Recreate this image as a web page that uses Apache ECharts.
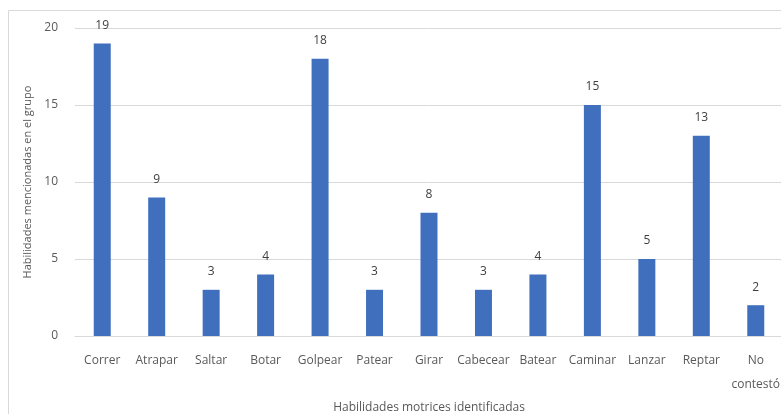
<!DOCTYPE html>
<html>
<head>
<meta charset="utf-8">
<script src="https://cdn.jsdelivr.net/npm/echarts@6/dist/echarts.min.js"></script>
<style>
  html, body { margin: 0; padding: 0; background: #fff; }
  #main { width: 781px; height: 414px; }
</style>
</head>
<body>
<div id="main"></div>
<script>
var categories = ['Correr', 'Atrapar', 'Saltar', 'Botar', 'Golpear', 'Patear', 'Girar',
                  'Cabecear', 'Batear', 'Caminar', 'Lanzar', 'Reptar', 'No\ncontestó'];
var values = [19, 9, 3, 4, 18, 3, 8, 3, 4, 15, 5, 13, 2];
var yTicks = [0, 5, 10, 15, 20];

var textColor = '#595959';
var fontName = 'Open Sans';

var myChart = echarts.init(document.getElementById('main'));
var option = {
    animation: false,
    textStyle: { fontFamily: fontName },
    graphic: [{
        type: 'rect',
        shape: { x: 8.5, y: 10.5, width: 900, height: 600 },
        style: { fill: 'none', stroke: '#d9d9d9', lineWidth: 1 },
        silent: true
    }],
    grid: {
        left: 75,
        top: 28,
        width: 708,
        height: 308,
        containLabel: false,
        outerBoundsMode: 'none'
    },
    xAxis: {
        type: 'category',
        data: categories,
        name: 'Habilidades motrices identificadas',
        nameLocation: 'middle',
        nameGap: 63,
        nameTextStyle: { color: textColor, fontSize: 12, fontFamily: fontName },
        axisLine: { lineStyle: { color: '#d9d9d9', width: 1 } },
        axisTick: { show: false },
        axisLabel: {
            color: textColor,
            fontSize: 12,
            fontFamily: fontName,
            margin: 13,
            lineHeight: 24,
            interval: 0
        }
    },
    yAxis: {
        type: 'value',
        min: yTicks[0],
        max: yTicks[yTicks.length - 1],
        interval: 5,
        name: 'Habilidades mencionadas en el grupo',
        nameLocation: 'middle',
        nameGap: 42,
        nameTextStyle: { color: textColor, fontSize: 11, fontFamily: fontName },
        axisLine: { show: false },
        axisTick: { show: false },
        axisLabel: { color: textColor, fontSize: 12, fontFamily: fontName, margin: 17 },
        splitLine: { lineStyle: { color: '#d9d9d9', width: 1 } }
    },
    series: [{
        type: 'bar',
        data: values,
        barWidth: 17,
        itemStyle: { color: '#4070BD' },
        label: {
            show: true,
            position: 'top',
            distance: 12,
            color: '#404040',
            fontSize: 12,
            fontFamily: fontName
        }
    }]
};
myChart.setOption(option);
window.onresize = myChart.resize;
</script>
</body>
</html>
